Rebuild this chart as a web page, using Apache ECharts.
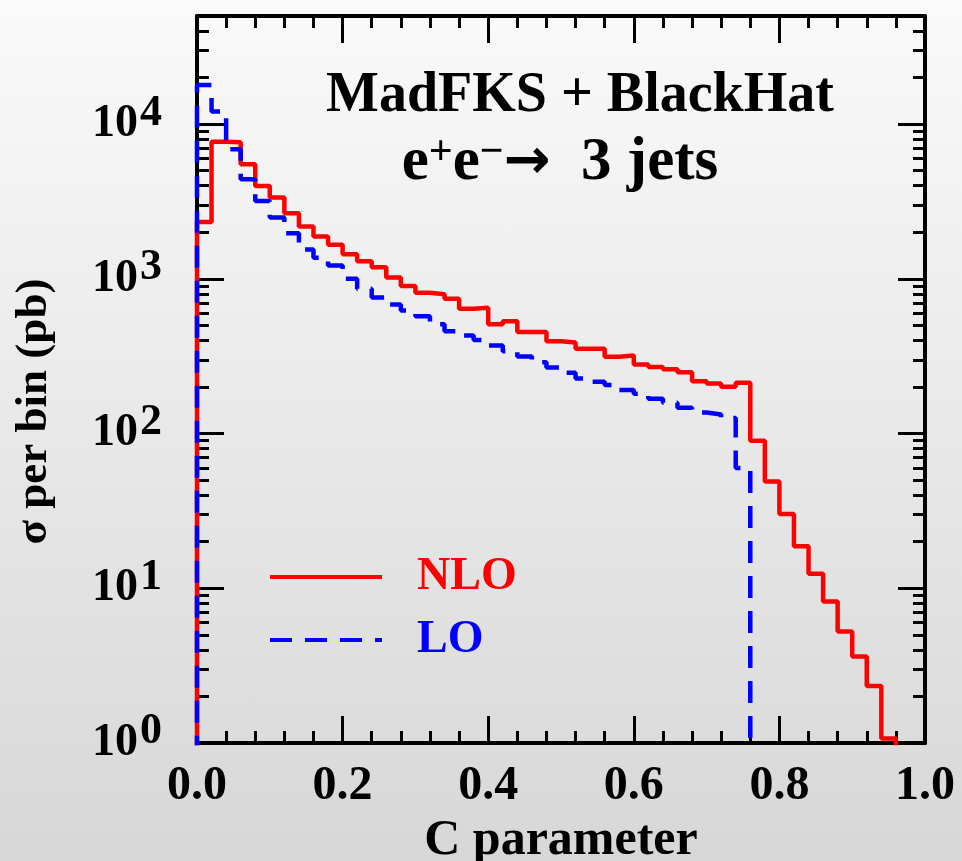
<!DOCTYPE html>
<html>
<head>
<meta charset="utf-8">
<script src="https://cdn.jsdelivr.net/npm/echarts@6/dist/echarts.min.js"></script>
<style>
  html, body { margin: 0; padding: 0; }
  #main { width: 962px; height: 861px; background: linear-gradient(#fafafa, #d7d7d7); }
</style>
</head>
<body>
<div id="main"></div>
<script>
// lower edges of the 0.02 wide bins in C
var binLow = [0.00, 0.02, 0.04, 0.06, 0.08, 0.10, 0.12, 0.14, 0.16, 0.18,
              0.20, 0.22, 0.24, 0.26, 0.28, 0.30, 0.32, 0.34, 0.36, 0.38,
              0.40, 0.42, 0.44, 0.46, 0.48, 0.50, 0.52, 0.54, 0.56, 0.58,
              0.60, 0.62, 0.64, 0.66, 0.68, 0.70, 0.72, 0.74, 0.76, 0.78,
              0.80, 0.82, 0.84, 0.86, 0.88, 0.90, 0.92, 0.94, 0.96, 0.98]
var binEnd = 1.0

// sigma per bin (pb)
var nloData = [2330, 7700, 7650, 5510, 3990, 3350, 2650, 2180, 1880, 1660,
               1440, 1300, 1190, 1020, 898, 814, 794, 745, 641, 650,
               508, 533, 453, 453, 395, 388, 353, 353, 314, 320,
               280, 269, 260, 249, 218, 211, 201, 213, 90, 49,
               30.2, 18.7, 12.4, 8.2, 5.25, 3.62, 2.34, 1.07, 0, 0]
var loData = [17880, 12080, 6890, 4410, 3190, 2490, 1970, 1550, 1368, 1222,
              1003, 863, 759, 684, 625, 574, 508, 459, 431, 402,
              371, 341, 315, 289, 267, 247, 227, 216, 206, 191,
              181, 168, 158, 147, 137, 133, 126, 60, 0, 0,
              0, 0, 0, 0, 0, 0, 0, 0, 0, 0]

var yDecades = [1, 10, 100, 1000, 10000]
var yMinor = []
yDecades.forEach(function (d) {
  for (var k = 2; k <= 9; k++) if (d * k <= 50000) yMinor.push(d * k)
})

var FLOOR = 0.1 // empty bins go below the axis and get clipped
var serif = '"Liberation Serif", "DejaVu Serif", serif'

function stepData(vals) {
  var pts = [[binLow[0], FLOOR]]
  for (var i = 0; i < vals.length; i++) {
    pts.push([binLow[i], vals[i] > 0 ? vals[i] : FLOOR])
  }
  pts.push([binEnd, vals[vals.length - 1] > 0 ? vals[vals.length - 1] : FLOOR])
  return pts
}

var black = { color: '#000', width: 3 }

function xAxisCfg(pos) {
  return {
    type: 'value', min: 0, max: 1, interval: 0.2, position: pos,
    axisLine: { show: true, onZero: false, lineStyle: { color: '#000', width: 4 } },
    axisTick: { inside: true, length: 27, lineStyle: black },
    minorTick: { show: true, splitNumber: 5, length: 12, lineStyle: black },
    axisLabel: {
      show: pos === 'bottom', margin: 20, color: '#000',
      fontFamily: serif, fontWeight: 'bold', fontSize: 48,
      formatter: function (v) { return v.toFixed(1) }
    },
    splitLine: { show: false }
  }
}

function yAxisCfg(pos, minor) {
  return {
    type: 'log', logBase: 10, min: 1, max: 50000, position: pos,
    axisLine: { show: !minor, onZero: false, lineStyle: { color: '#000', width: 4 } },
    axisTick: { inside: true, length: minor ? 12 : 27, customValues: minor ? yMinor : yDecades, lineStyle: black },
    axisLabel: {
      show: pos === 'left' && !minor, margin: 35, customValues: yDecades,
      formatter: function (v) { return '{b|10}{s|' + Math.round(Math.log10(v)) + '}' },
      rich: {
        b: { fontFamily: serif, fontWeight: 'bold', fontSize: 46, lineHeight: 66, color: '#000', verticalAlign: 'middle' },
        s: { fontFamily: serif, fontWeight: 'bold', fontSize: 44, lineHeight: 40, color: '#000', verticalAlign: 'top', padding: [0, 0, 0, 2] }
      }
    },
    splitLine: { show: false }
  }
}

var chart = echarts.init(document.getElementById('main'), null, { renderer: 'canvas' })

var xBottom = xAxisCfg('bottom')
xBottom.name = 'C parameter'
xBottom.nameLocation = 'middle'
xBottom.nameGap = 64
xBottom.nameTextStyle = { fontFamily: serif, fontWeight: 'bold', fontSize: 50, color: '#000' }

var yLeft = yAxisCfg('left', false)
yLeft.name = 'σ per bin (pb)'
yLeft.nameLocation = 'middle'
yLeft.nameGap = 140
yLeft.nameTextStyle = { fontFamily: serif, fontWeight: 'bold', fontSize: 45, color: '#000', padding: [0, 64, 0, 0] }

chart.setOption({
  animation: false,
  grid: { left: 197, right: 37, top: 16, bottom: 118, outerBoundsMode: 'none', containLabel: false },
  legend: {
    orient: 'vertical', left: 268, top: 554, padding: 0,
    itemWidth: 112, itemHeight: 14, itemGap: 17,
    lineStyle: { width: 4 },
    itemStyle: { opacity: 0 },
    textStyle: { fontFamily: serif, fontWeight: 'bold', fontSize: 46, lineHeight: 46, padding: [0, 0, 0, 30] },
    data: [
      { name: 'NLO', textStyle: { color: '#ff0000' } },
      { name: 'LO', textStyle: { color: '#0000ff' } }
    ]
  },
  graphic: [
    {
      type: 'text', x: 580, y: 97,
      style: {
        text: 'MadFKS + BlackHat', fill: '#000',
        font: 'bold 56px ' + serif, textAlign: 'center', textVerticalAlign: 'middle'
      }
    },
    {
      type: 'text', x: 560, y: 163,
      style: {
        text: 'e{s|+}e{s|−}{a|→}  3 jets', fill: '#000',
        font: 'bold 61px ' + serif, textAlign: 'center', textVerticalAlign: 'middle',
        rich: {
          s: { font: 'bold 42px ' + serif, fill: '#000', verticalAlign: 'top' },
          a: { font: 'bold 56px "DejaVu Sans"', fill: '#000' }
        }
      }
    }
  ],
  xAxis: [xBottom, xAxisCfg('top')],
  yAxis: [yLeft, yAxisCfg('left', true), yAxisCfg('right', false), yAxisCfg('right', true)],
  series: [
    {
      name: 'NLO', type: 'line', step: 'end', symbol: 'none', clip: true, z: 3,
      xAxisIndex: 0, yAxisIndex: 0,
      data: stepData(nloData),
      itemStyle: { color: '#ff0000' },
      lineStyle: { color: '#ff0000', width: 4.5 }
    },
    {
      name: 'LO', type: 'line', step: 'end', symbol: 'none', clip: true, z: 4,
      xAxisIndex: 0, yAxisIndex: 0,
      data: stepData(loData),
      itemStyle: { color: '#0000ff' },
      lineStyle: { color: '#0000ff', width: 4.5, type: [22, 13] }
    }
  ]
})
</script>
</body>
</html>
